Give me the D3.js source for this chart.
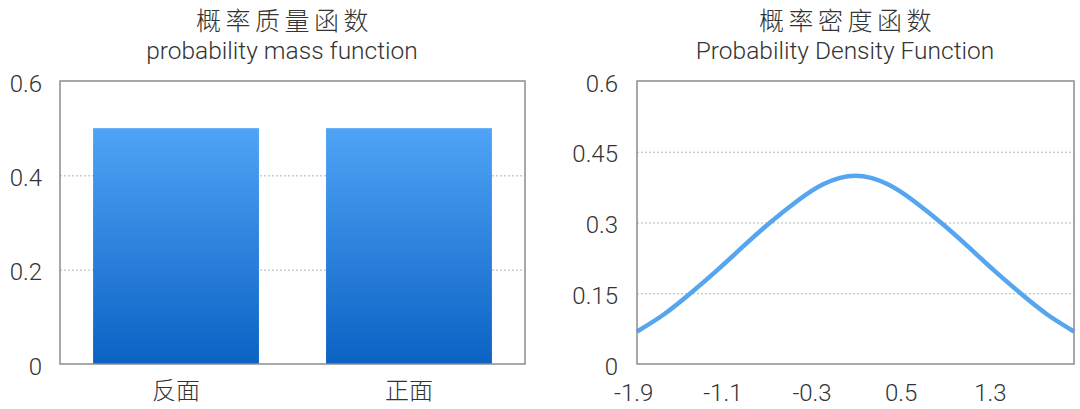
<!DOCTYPE html>
<html>
<head>
<meta charset="utf-8">
<script src="https://cdn.jsdelivr.net/npm/d3@7"></script>
<style>
  html, body { margin: 0; padding: 0; background: #fff; }
  svg { display: block; }
  .lat { font-family: "Roboto", "Liberation Sans", sans-serif; font-weight: 300; fill: #333; }
  .cjk { font-family: "Noto Sans CJK SC", sans-serif; font-weight: 300; fill: #333; }
</style>
</head>
<body>
<svg id="chart" width="1080" height="409"></svg>
<script>
// ---- data ----
const pmfCategories = ["反面", "正面"];
const pmfValues = [0.5, 0.5];
const pmfTicks = [0, 0.2, 0.4, 0.6];

const pdfX = [-1.87, -1.63, -1.39, -1.15, -0.91, -0.67, -0.43, -0.20, 0.09, 0.38, 0.61, 0.85, 1.09, 1.33, 1.57, 1.81, 2.05];
const pdfY = [0.069, 0.105, 0.150, 0.199, 0.251, 0.301, 0.346, 0.381, 0.399, 0.381, 0.346, 0.301, 0.251, 0.199, 0.150, 0.105, 0.069];
const pdfXTicks = [-1.9, -1.1, -0.3, 0.5, 1.3];
const pdfYTicks = [0, 0.15, 0.3, 0.45, 0.6];

const titlesLeft = ["概率质量函数", "probability mass function"];
const titlesRight = ["概率密度函数", "Probability Density Function"];

// ---- layout ----
const svg = d3.select("#chart");
const plotTop = 81, plotBottom = 364;
const L = { x0: 60, x1: 525, titleX: 282 };
const R = { x0: 637, x1: 1074, titleX: 845 };

const defs = svg.append("defs");
const grad = defs.append("linearGradient").attr("id", "barGrad")
  .attr("x1", 0).attr("y1", 0).attr("x2", 0).attr("y2", 1);
grad.append("stop").attr("offset", "0%").attr("stop-color", "#4fa4f6");
grad.append("stop").attr("offset", "100%").attr("stop-color", "#0b62c3");

function drawTitles(t, cx) {
  svg.append("text").attr("class", "cjk").attr("x", cx + 2.5).attr("y", 29.5)
    .attr("text-anchor", "middle").attr("font-size", 25)
    .attr("letter-spacing", 4.5).text(t[0]);
  svg.append("text").attr("class", "lat").attr("x", cx).attr("y", 59)
    .attr("text-anchor", "middle").attr("font-size", 24.5).text(t[1]);
}

function yAxisLabels(y, ticks, xRight) {
  svg.append("g").selectAll("text").data(ticks).join("text")
    .attr("class", "lat")
    .attr("x", xRight).attr("y", d => y(d) + 2)
    .attr("dy", "0.36em")
    .attr("text-anchor", "end").attr("font-size", 24)
    .text(d => d === 0 ? "0" : String(d));
}

function grid(y, ticks, x0, x1) {
  svg.append("g").selectAll("line").data(ticks.filter(d => d > 0 && d < 0.6)).join("line")
    .attr("x1", x0).attr("x2", x1)
    .attr("y1", d => y(d) + 0.5).attr("y2", d => y(d) + 0.5)
    .attr("stroke", "#b5b5b5").attr("stroke-width", 1).attr("stroke-dasharray", "2,2");
}

function frame(x0, x1) {
  svg.append("rect").attr("x", x0).attr("y", plotTop).attr("width", x1 - x0).attr("height", plotBottom - plotTop)
    .attr("fill", "none").attr("stroke", "#8c8c8c").attr("stroke-width", 1.5);
}

// ---- left: PMF bars ----
{
  const y = d3.scaleLinear().domain([0, 0.6]).range([plotBottom, plotTop]);
  const x = d3.scaleBand().domain(pmfCategories).range([L.x0, L.x1])
    .paddingInner(0.288).paddingOuter(0.142);
  drawTitles(titlesLeft, L.titleX);
  grid(y, pmfTicks, L.x0, L.x1);
  svg.append("g").selectAll("rect").data(pmfCategories).join("rect")
    .attr("x", d => x(d)).attr("width", x.bandwidth())
    .attr("y", (d, i) => y(pmfValues[i])).attr("height", (d, i) => plotBottom - y(pmfValues[i]))
    .attr("fill", "url(#barGrad)");
  frame(L.x0, L.x1);
  yAxisLabels(y, pmfTicks, 42);
  svg.append("g").selectAll("text").data(pmfCategories).join("text")
    .attr("class", "cjk")
    .attr("x", d => x(d) + x.bandwidth() / 2).attr("y", 390).attr("dy", "0.36em")
    .attr("text-anchor", "middle").attr("font-size", 24)
    .text(d => d);
}

// ---- right: PDF curve ----
{
  const y = d3.scaleLinear().domain([0, 0.6]).range([plotBottom, plotTop]);
  const x = d3.scaleLinear().domain([-1.87, 2.05]).range([R.x0, R.x1]);
  drawTitles(titlesRight, R.titleX);
  grid(y, pdfYTicks, R.x0, R.x1);
  const pts = pdfX.map((v, i) => [v, pdfY[i]]);
  const line = d3.line().x(d => x(d[0])).y(d => y(d[1])).curve(d3.curveNatural);
  svg.append("path").datum(pts).attr("d", line)
    .attr("fill", "none").attr("stroke", "#55a6ef").attr("stroke-width", 4.5)
    .attr("stroke-linecap", "butt");
  frame(R.x0, R.x1);
  yAxisLabels(y, pdfYTicks, 618);
  svg.append("g").selectAll("text").data(pdfXTicks).join("text")
    .attr("class", "lat")
    .attr("x", d => x(d)).attr("y", 392).attr("dy", "0.36em")
    .attr("text-anchor", "middle").attr("font-size", 24)
    .text(d => String(d));
}
</script>
</body>
</html>
